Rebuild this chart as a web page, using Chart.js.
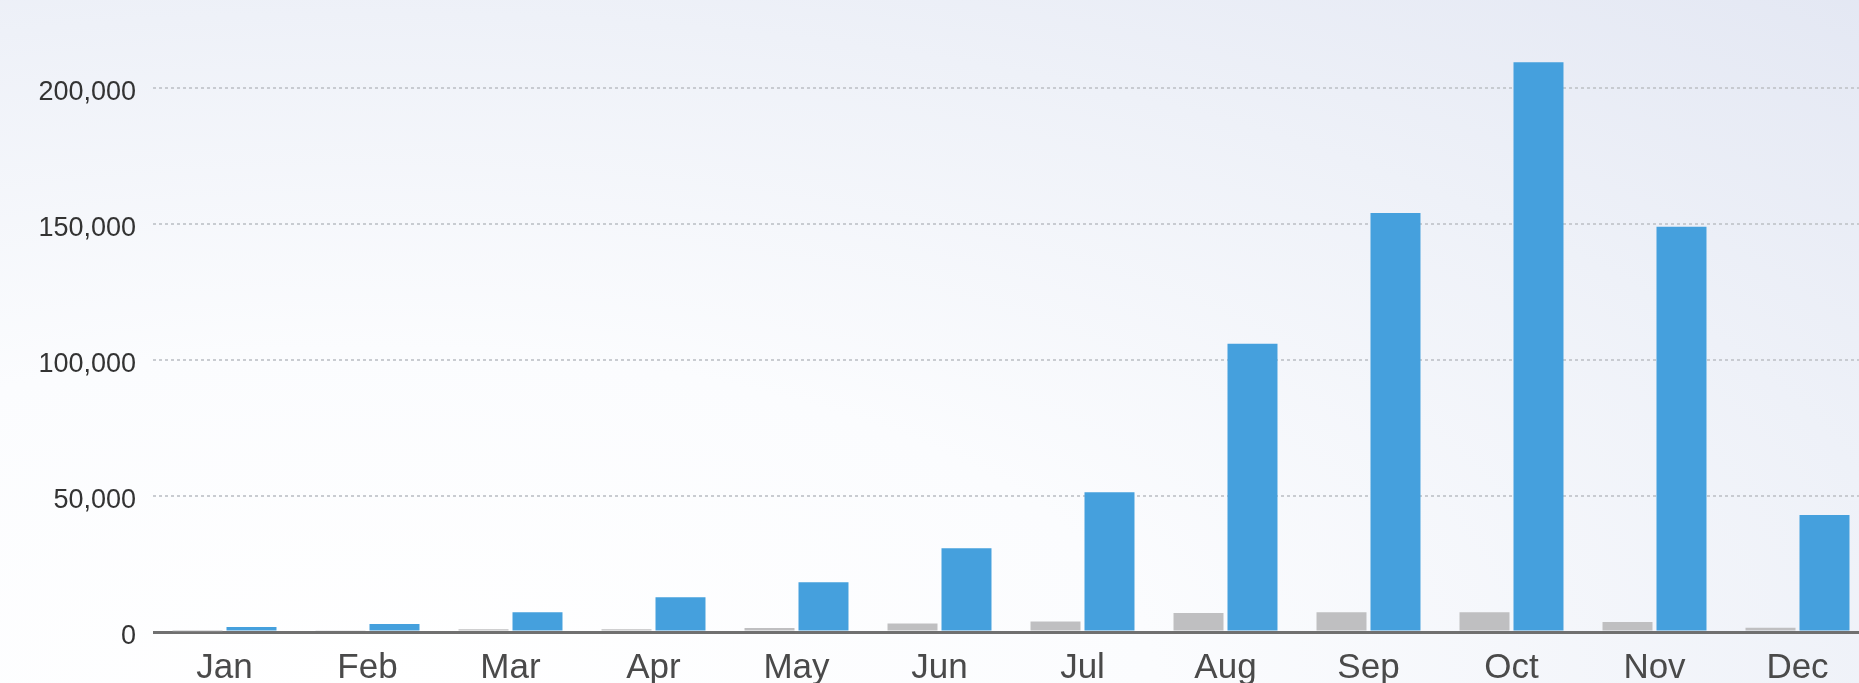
<!DOCTYPE html>
<html>
<head>
<meta charset="utf-8">
<script src="https://cdn.jsdelivr.net/npm/chart.js@4.4.1/dist/chart.umd.min.js"></script>
<style>
  html, body { margin: 0; padding: 0; width: 1859px; height: 683px; overflow: hidden; }
  body {
    background: radial-gradient(ellipse 120% 140% at 20% 100%, #ffffff 0%, #fbfcfe 35%, #eef1f8 70%, #e3e7f3 100%);
    position: relative;
  }
  #wrap { position: absolute; left: 0; top: -48px; width: 1869px; height: 740px; }
</style>
</head>
<body>
<div id="wrap"><canvas id="c"></canvas></div>
<script>
const months = ['Jan', 'Feb', 'Mar', 'Apr', 'May', 'Jun', 'Jul', 'Aug', 'Sep', 'Oct', 'Nov', 'Dec'];
const grayValues = [300, 500, 1000, 1000, 1500, 3100, 3900, 7000, 7300, 7300, 3700, 1600];
const blueValues = [1800, 2900, 7300, 12800, 18300, 30800, 51400, 106000, 154000, 209500, 149000, 43000];
const yMin = 0;
const yMax = 250000;
const yStep = 50000;

new Chart(document.getElementById('c'), {
  type: 'bar',
  data: {
    labels: months,
    datasets: [
      { data: grayValues, backgroundColor: '#bfbfc1', borderWidth: 0, barPercentage: 0.926, categoryPercentage: 0.755 },
      { data: blueValues, backgroundColor: '#45a0dd', borderWidth: 0, barPercentage: 0.926, categoryPercentage: 0.755 }
    ]
  },
  options: {
    responsive: true,
    maintainAspectRatio: false,
    animation: false,
    layout: { padding: 0 },
    plugins: { legend: { display: false }, tooltip: { enabled: false }, title: { display: false } },
    scales: {
      x: {
        grid: { display: false, drawTicks: false },
        border: { display: false },
        ticks: {
          color: '#4a4a4a',
          font: { family: "'Liberation Sans', Arial, sans-serif", size: 35 },
          padding: 15,
          maxRotation: 0,
          autoSkip: false
        },
        afterFit: s => { s.height = 60; s.paddingLeft = 0; s.paddingRight = 0; }
      },
      y: {
        min: yMin,
        max: yMax,
        ticks: {
          stepSize: yStep,
          color: '#333333',
          font: { family: "'Liberation Sans', Arial, sans-serif", size: 27 },
          padding: 17,
          labelOffset: 5,
          callback: v => v === yMax ? '' : v.toLocaleString('en-US')
        },
        grid: {
          drawTicks: false,
          color: ctx => ctx.tick && ctx.tick.value === 0 ? '#707070' : 'rgba(195,198,204,0.9)',
          lineWidth: ctx => ctx.tick && ctx.tick.value === 0 ? 3 : 2
        },
        border: {
          display: false,
          dash: ctx => ctx.tick && ctx.tick.value === 0 ? [] : [3, 3]
        },
        afterFit: s => { s.width = 153; s.paddingTop = 0; s.paddingBottom = 0; }
      }
    }
  }
});
</script>
</body>
</html>
